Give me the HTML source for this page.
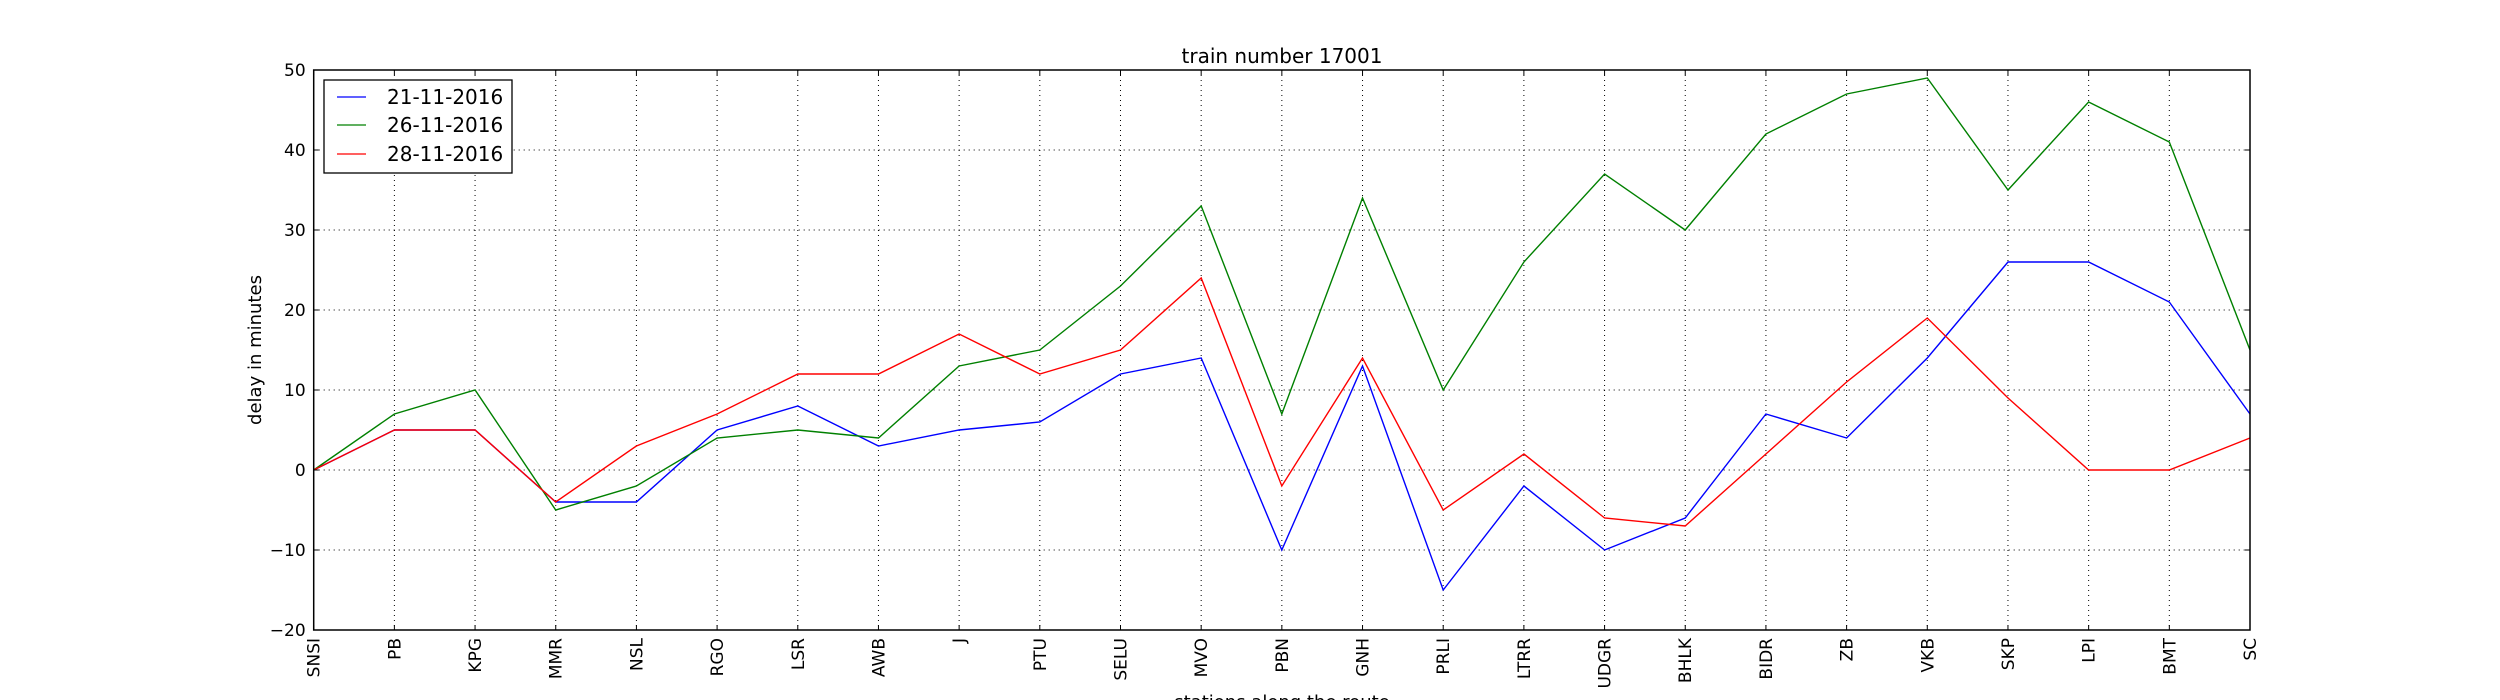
<!DOCTYPE html>
<html><head><meta charset="utf-8"><style>
html,body{margin:0;padding:0;background:#fff;}
svg{display:block;font-family:"DejaVu Sans","Liberation Sans",sans-serif;}
</style></head><body>
<svg id="chart" width="2500" height="700" viewBox="0 0 2500 700" xmlns="http://www.w3.org/2000/svg">
<rect x="0" y="0" width="2500" height="700" fill="#fff"/>
<g id="grid"></g>
<g id="series"></g>
<g id="axes"></g>
<text x="1282" y="63" font-size="20" text-anchor="middle">train number 17001</text>
<text x="1282" y="708" font-size="18" text-anchor="middle">stations along the route</text>
<text x="0" y="0" font-size="18" text-anchor="middle" transform="translate(261,350) rotate(-90)">delay in minutes</text>
<g>
<rect x="324" y="80" width="188" height="93" fill="#fff" stroke="#000" stroke-width="1.3"/>
<line x1="337" y1="97" x2="366" y2="97" stroke="#0000ff" stroke-width="1.3"/>
<text x="387" y="104" font-size="20">21-11-2016</text>
<line x1="337" y1="125" x2="366" y2="125" stroke="#008000" stroke-width="1.3"/>
<text x="387" y="132" font-size="20">26-11-2016</text>
<line x1="337" y1="154" x2="366" y2="154" stroke="#ff0000" stroke-width="1.3"/>
<text x="387" y="161" font-size="20">28-11-2016</text>
</g>
</svg>
<script>
const stations = ["SNSI","PB","KPG","MMR","NSL","RGO","LSR","AWB","J","PTU","SELU","MVO","PBN","GNH","PRLI","LTRR","UDGR","BHLK","BIDR","ZB","VKB","SKP","LPI","BMT","SC"];
const delays21 = [0,5,5,-4,-4,5,8,3,5,6,12,14,-10,13,-15,-2,-10,-6,7,4,14,26,26,21,7];
const delays26 = [0,7,10,-5,-2,4,5,4,13,15,23,33,7,34,10,26,37,30,42,47,49,35,46,41,15];
const delays28 = [0,5,5,-4,3,7,12,12,17,12,15,24,-2,14,-5,2,-6,-7,2,11,19,9,0,0,4];
const yTicks = [-20,-10,0,10,20,30,40,50];

const L=313.7,R=2250,T=70,B=630,yMin=-20,yMax=50;
const NS="http://www.w3.org/2000/svg";
function xs(i){return L+(R-L)*i/(stations.length-1);}
function ys(v){return B-(v-yMin)/(yMax-yMin)*(B-T);}
function mk(tag,attrs,parent){const e=document.createElementNS(NS,tag);for(const k in attrs)e.setAttribute(k,attrs[k]);parent.appendChild(e);return e;}
const grid=document.getElementById('grid'),axes=document.getElementById('axes'),series=document.getElementById('series');

stations.forEach((s,i)=>{
  const x=xs(i);
  if(i>0&&i<stations.length-1){
    const g=mk('line',{x1:x,y1:T,x2:x,y2:B,stroke:'#000','stroke-width':1,'stroke-dasharray':'1,4'},grid);
    
    
  }
  const t1=mk('line',{x1:x,y1:B,x2:x,y2:B-5,stroke:'#000','stroke-width':1},axes);
  
  
  const t2=mk('line',{x1:x,y1:T,x2:x,y2:T+5,stroke:'#000','stroke-width':1},axes);
  
  
  const lb=mk('text',{x:0,y:0,'font-size':17,'text-anchor':'end',transform:`translate(${x+6},${B+8}) rotate(-90)`},axes);
  lb.textContent=s;
  
  
});
yTicks.forEach(v=>{
  const y=ys(v);
  if(v>yMin&&v<yMax){
    const g=mk('line',{x1:L,y1:y,x2:R,y2:y,stroke:'#000','stroke-width':1,'stroke-dasharray':'1,4'},grid);
    
    
  }
  const t1=mk('line',{x1:L,y1:y,x2:L+5,y2:y,stroke:'#000','stroke-width':1},axes);
  
  
  const t2=mk('line',{x1:R,y1:y,x2:R-5,y2:y,stroke:'#000','stroke-width':1},axes);
  
  
  const lb=mk('text',{x:L-8,y:y+6,'font-size':17,'text-anchor':'end'},axes);
  lb.textContent=(v<0?'\u2212'+(-v):String(v));
  
  
});
const frame=mk('rect',{x:L,y:T,width:R-L,height:B-T,fill:'none',stroke:'#000','stroke-width':1.5},axes);



[[delays21,'#0000ff','series-21-11-2016'],[delays26,'#008000','series-26-11-2016'],[delays28,'#ff0000','series-28-11-2016']].forEach(([d,c,n])=>{
  const pts=d.map((v,i)=>xs(i).toFixed(1)+','+ys(v).toFixed(1)).join(' ');
  const p=mk('polyline',{points:pts,fill:'none',stroke:c,'stroke-width':1.4,'stroke-linejoin':'miter'},series);
  
  
});
</script>
</body></html>
